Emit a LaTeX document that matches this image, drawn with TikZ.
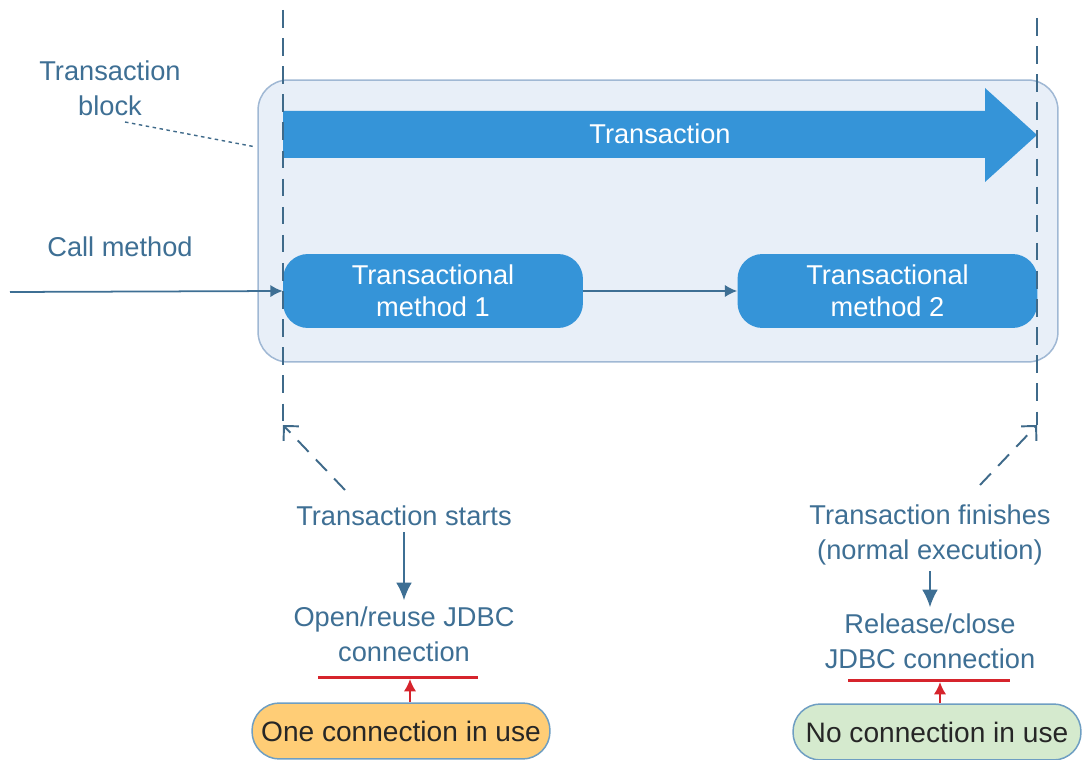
\documentclass[tikz,border=0pt]{standalone}
\usepackage{fontspec}
\setmainfont{Liberation Sans}
\usetikzlibrary{arrows.meta}
\definecolor{blockfill}{RGB}{232,239,248}
\definecolor{blockline}{RGB}{160,184,212}
\definecolor{mblue}{RGB}{53,148,216}
\definecolor{labelblue}{RGB}{62,111,148}
\definecolor{dashblue}{RGB}{63,106,138}
\definecolor{barred}{RGB}{214,36,44}
\definecolor{busyfill}{RGB}{255,205,118}
\definecolor{freefill}{RGB}{213,234,206}
\definecolor{pillline}{RGB}{110,158,194}
\tikzstyle{note} = [text=labelblue, align=center,
                    font=\fontsize{15.5}{20}\selectfont]
\tikzstyle{block} = [rectangle, rounded corners=0.6cm,
                     minimum width=16cm, minimum height=5.64cm,
                     draw=blockline, fill=blockfill, line width=0.3mm]
\tikzstyle{method} = [rectangle, rounded corners=0.5cm,
                      minimum width=6cm, minimum height=1.48cm,
                      align=center, fill=mblue, text=white,
                      font=\fontsize{15.5}{18.5}\selectfont]
\tikzstyle{pill} = [rectangle, rounded corners=0.55cm,
                    minimum height=1.12cm, draw=pillline,
                    text=black!85, line width=0.3mm,
                    font=\fontsize{16}{20}\selectfont]
\tikzstyle{arrow} = [line width=1.1pt, draw=labelblue,
                     -{Latex[length=10pt,width=9pt]}]
\tikzstyle{callarrow} = [line width=1pt, draw=labelblue,
                         -{Latex[length=7pt,width=7pt]}]
\tikzstyle{hint} = [line width=1.1pt, draw=dashblue, dash pattern=on 9pt off 6pt,
                    -{Straight Barb[length=6pt,width=12pt]}]
\tikzstyle{edge} = [line width=1pt, draw=dashblue, dash pattern=on 10pt off 6pt]
\tikzstyle{redbar} = [line width=0.6mm, draw=barred]
\tikzstyle{redarrow} = [line width=1.1pt, draw=barred,
                        -{Latex[length=7pt,width=7pt]}]

\begin{document}
\begin{tikzpicture}[x=0.02cm, y=-0.02cm]
        \useasboundingbox (0,0) rectangle (1083,760);

        \node (block) [block] at (658,221) {};

        % big transaction arrow
        \fill[mblue] (283,111) -- (985,111) -- (985,88) -- (1037,135)
                     -- (985,182) -- (985,158) -- (283,158) -- cycle;
        \node (trans) [text=white, font=\fontsize{15.5}{20}\selectfont] at (660,134) {Transaction};

        \node (tblock) [note] at (110,88) {Transaction\\block};
        \coordinate (tb0) at (125,122);
        \coordinate (tb1) at (256,147);
        \draw [dashblue, thick, dash pattern=on 2pt off 2pt] (tb0) -- (tb1);

        \node (Method1) [method] at (433,291) {Transactional\\method 1};
        \node (Method2) [method] at (887.5,291) {Transactional\\method 2};

        \node (call) [note] at (120,247) {Call method};
        \coordinate (callin) at (10,292);
        \draw [callarrow] (callin) -- (Method1.west);
        \draw [callarrow] (Method1) -- (Method2);

        % start / finish marks
        \coordinate (top1) at (283,10);
        \coordinate (bot1) at (283,425);
        \coordinate (top2) at (1037,18);
        \coordinate (bot2) at (1037,425);
        \draw [edge] (top1) -- (bot1);
        \draw [edge] (top2) -- (bot2);

        \node (starts) [note] at (404,516) {Transaction starts};
        \node (open) [note] at (404,634) {Open/reuse JDBC\\connection};
        \coordinate (s0) at (345,490);
        \draw [hint] (s0) -- (bot1);
        \draw [arrow] (starts) -- (open);

        \node (finish) [note] at (930,535) {Transaction finishes\\(normal execution)};
        \node (close) [note] at (930,641) {Release/close\\JDBC connection};
        \coordinate (f0) at (980,485);
        \draw [hint] (f0) -- (bot2);
        \draw [arrow] (finish) -- (close);

        % connection state
        \node (one) [pill, fill=busyfill, minimum width=5.96cm] at (401,731) {One connection in use};
        \node (none) [pill, fill=freefill, minimum width=5.76cm] at (937,732) {No connection in use};

        \coordinate (bar1a) at (318,677);
        \coordinate (bar1b) at (478,677);
        \coordinate (bar1m) at (410,679);
        \coordinate (bar2a) at (848,680);
        \coordinate (bar2b) at (1010,680);
        \coordinate (bar2m) at (940,682);
        \draw [redbar] (bar1a) -- (bar1b);
        \draw [redbar] (bar2a) -- (bar2b);
        \draw [redarrow] (one.north -| bar1m) -- (bar1m);
        \draw [redarrow] (none.north -| bar2m) -- (bar2m);

    \end{tikzpicture}
\end{document}
